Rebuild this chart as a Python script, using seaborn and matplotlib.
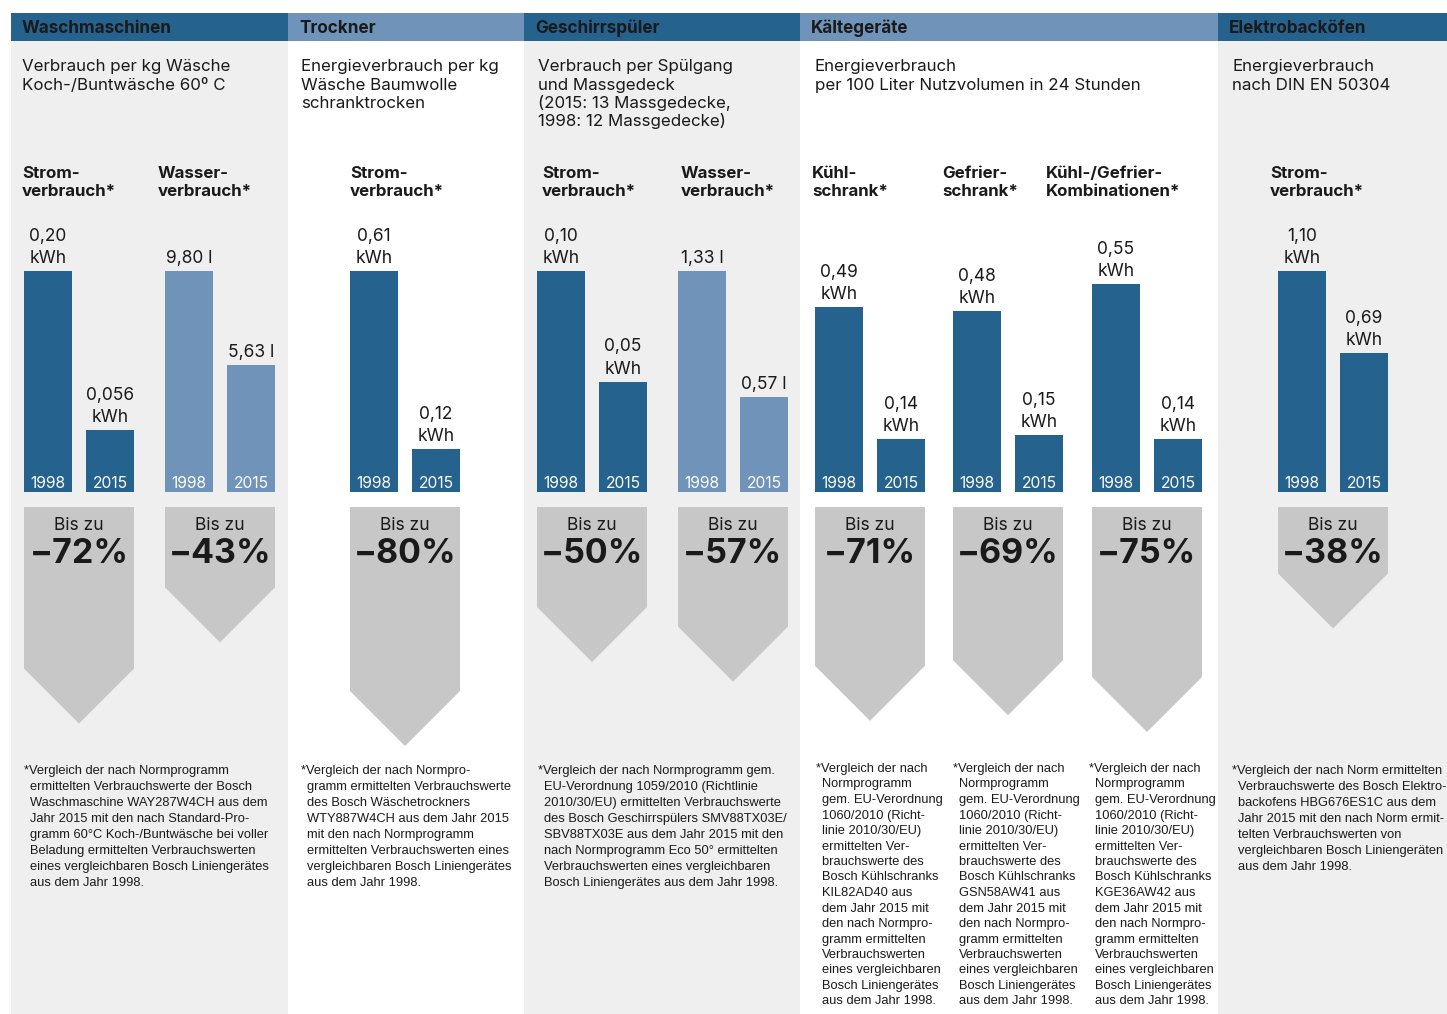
import matplotlib
matplotlib.use("Agg")
import matplotlib.pyplot as plt
from matplotlib.patches import Rectangle, Polygon
import seaborn as sns

# ---------------------------------------------------------------- data
SECTIONS = ["Waschmaschinen", "Trockner", "Geschirrspüler", "Kältegeräte", "Elektrobacköfen"]
SUBTITLES = [
    ["Verbrauch per kg Wäsche", "Koch-/Buntwäsche 60º C"],
    ["Energieverbrauch per kg", "Wäsche Baumwolle", "schranktrocken"],
    ["Verbrauch per Spülgang", "und Massgedeck", "(2015: 13 Massgedecke,", "1998: 12 Massgedecke)"],
    ["Energieverbrauch", "per 100 Liter Nutzvolumen in 24 Stunden"],
    ["Energieverbrauch", "nach DIN EN 50304"],
]
GROUP_LABELS = [
    ["Strom-", "verbrauch*"], ["Wasser-", "verbrauch*"], ["Strom-", "verbrauch*"],
    ["Strom-", "verbrauch*"], ["Wasser-", "verbrauch*"], ["Kühl-", "schrank*"],
    ["Gefrier-", "schrank*"], ["Kühl-/Gefrier-", "Kombinationen*"], ["Strom-", "verbrauch*"],
]
YEARS = ["1998", "2015"]
VALUES_1998 = [0.20, 9.80, 0.61, 0.10, 1.33, 0.49, 0.48, 0.55, 1.10]
VALUES_2015 = [0.056, 5.63, 0.12, 0.05, 0.57, 0.14, 0.15, 0.14, 0.69]
UNITS = ["kWh", "l", "kWh", "kWh", "l", "kWh", "kWh", "kWh", "kWh"]
REDUCTION = [72, 43, 80, 50, 57, 71, 69, 75, 38]

FOOTNOTES = [
    ["*Vergleich der nach Normprogramm", "ermittelten Verbrauchswerte der Bosch",
     "Waschmaschine WAY287W4CH aus dem", "Jahr 2015 mit den nach Standard-Pro-",
     "gramm 60°C Koch-/Buntwäsche bei voller", "Beladung ermittelten Verbrauchswerten",
     "eines vergleichbaren Bosch Liniengerätes", "aus dem Jahr 1998."],
    ["*Vergleich der nach Normpro-", "gramm ermittelten Verbrauchswerte",
     "des Bosch Wäschetrockners", "WTY887W4CH aus dem Jahr 2015",
     "mit den nach Normprogramm", "ermittelten Verbrauchswerten eines",
     "vergleichbaren Bosch Liniengerätes", "aus dem Jahr 1998."],
    ["*Vergleich der nach Normprogramm gem.", "EU-Verordnung 1059/2010 (Richtlinie",
     "2010/30/EU) ermittelten Verbrauchswerte", "des Bosch Geschirrspülers SMV88TX03E/",
     "SBV88TX03E aus dem Jahr 2015 mit den", "nach Normprogramm Eco 50° ermittelten",
     "Verbrauchswerten eines vergleichbaren", "Bosch Liniengerätes aus dem Jahr 1998."],
]
for model in ["KIL82AD40", "GSN58AW41", "KGE36AW42"]:
    FOOTNOTES.append([
        "*Vergleich der nach", "Normprogramm", "gem. EU-Verordnung", "1060/2010 (Richt-",
        "linie 2010/30/EU)", "ermittelten Ver-", "brauchswerte des", "Bosch Kühlschranks",
        f"{model} aus", "dem Jahr 2015 mit", "den nach Normpro-", "gramm ermittelten",
        "Verbrauchswerten", "eines vergleichbaren", "Bosch Liniengerätes", "aus dem Jahr 1998."])
FOOTNOTES.append([
    "*Vergleich der nach Norm ermittelten", "Verbrauchswerte des Bosch Elektro-",
    "backofens HBG676ES1C aus dem", "Jahr 2015 mit den nach Norm ermit-",
    "telten Verbrauchswerten von", "vergleichbaren Bosch Liniengeräten", "aus dem Jahr 1998."])

# ---------------------------------------------------------------- layout / style
W, H = 1447, 1014
SECTION_X = [11, 288, 524, 800, 1218, 1447]
SECTION_SHADED = [True, False, True, False, True]
DARK = "#25628E"
LIGHT = "#6F93B9"
GRAY_BG = "#EFEFEF"
ARROW_GRAY = "#C6C7C6"
INK = "#1A1A1A"
HEADER_COLORS = [DARK, LIGHT, DARK, LIGHT, DARK]
BAR_COLORS = [DARK, LIGHT, DARK, DARK, LIGHT, DARK, DARK, DARK, DARK]
SUBTITLE_X = [22, 301, 538, 815, 1232]
GROUP_X = [24, 165, 350, 537, 678, 815, 953, 1092, 1278]
LABEL_X = [22, 158, 350, 542, 681, 812, 942, 1046, 1270]
FOOTNOTE_X = [24, 301, 538, 816, 953, 1089, 1232]
SHARED_SCALE = [5, 6, 7]      # cooling appliances share one value axis
SHARED_YMAX = 0.585
GROUP_W = 110
BAR_W, BAR_STEP = 48, 62
BAR_TOP, BAR_BASE = 271, 492
ARROW_TOP = 507

sns.set_theme(style="white")
MAIN_FONT = ["Inter", "DejaVu Sans"]
NOTE_FONT = ["Liberation Sans", "DejaVu Sans"]
plt.rcParams["font.family"] = MAIN_FONT

fig = plt.figure(figsize=(W / 100, H / 100), dpi=100)
bg = fig.add_axes([0, 0, 1, 1])
bg.set_xlim(0, W)
bg.set_ylim(H, 0)
bg.set_axis_off()


def lines_at(x, y, lines, step, **kw):
    for k, line in enumerate(lines):
        bg.text(x, y + k * step, line, va="baseline", **kw)


# section panels and headers
for i, name in enumerate(SECTIONS):
    x0, x1 = SECTION_X[i], SECTION_X[i + 1]
    if SECTION_SHADED[i]:
        bg.add_patch(Rectangle((x0, 13), x1 - x0, H - 13, color=GRAY_BG, lw=0, zorder=0))
    bg.add_patch(Rectangle((x0, 13), x1 - x0, 28, color=HEADER_COLORS[i], lw=0, zorder=1))
    bg.text(x0 + 11, 33, name, fontsize=12.3, fontweight="bold", color=INK,
            va="baseline", zorder=2)
    lines_at(SUBTITLE_X[i], 71.5, SUBTITLES[i], 18.3, fontsize=12.2, color=INK)


def fmt(v):
    s = f"{v:.2f}" if abs(round(v, 2) - v) < 1e-9 else f"{v:.3f}"
    return s.replace(".", ",")


# bar pairs and reduction arrows
pad = (GROUP_W / BAR_STEP - 2) / 2
for g in range(len(VALUES_1998)):
    gx = GROUP_X[g]
    lines_at(LABEL_X[g], 177.5, GROUP_LABELS[g], 19, fontsize=12.2, fontweight="bold", color=INK)

    vals = [VALUES_1998[g], VALUES_2015[g]]
    ax = fig.add_axes([gx / W, (H - BAR_BASE) / H, GROUP_W / W, (BAR_BASE - BAR_TOP) / H])
    sns.barplot(x=YEARS, y=vals, color=BAR_COLORS[g], saturation=1, width=BAR_W / BAR_STEP,
                errorbar=None, ax=ax, linewidth=0)
    ax.set_xlim(-0.5 - pad, 1.5 + pad)
    ymax = SHARED_YMAX if g in SHARED_SCALE else VALUES_1998[g]
    ax.set_ylim(0, ymax)
    ax.set_axis_off()
    for k, v in enumerate(vals):
        ax.annotate(YEARS[k], (k, 0), xytext=(0, 4), textcoords="offset pixels",
                    ha="center", va="baseline", color="white", fontsize=11.3)
        if UNITS[g] == "kWh":
            ax.annotate("kWh", (k, v), xytext=(0, 8), textcoords="offset pixels",
                        ha="center", va="baseline", color=INK, fontsize=12.5)
            ax.annotate(fmt(v), (k, v), xytext=(0, 30), textcoords="offset pixels",
                        ha="center", va="baseline", color=INK, fontsize=12.5)
        else:
            ax.annotate(f"{fmt(v)} {UNITS[g]}", (k, v), xytext=(0, 8),
                        textcoords="offset pixels", ha="center", va="baseline",
                        color=INK, fontsize=12.5)

    # arrow whose length follows the reduction
    depth = 15 + 2.8 * REDUCTION[g]
    half = GROUP_W / 2
    l, r, c = gx, gx + GROUP_W, gx + half
    tip = ARROW_TOP + depth
    bg.add_patch(Polygon([(l, ARROW_TOP), (r, ARROW_TOP), (r, tip - half), (c, tip),
                          (l, tip - half)], closed=True, color=ARROW_GRAY, lw=0, zorder=1))
    bg.text(c, 530, "Bis zu", ha="center", va="baseline", fontsize=12.5, color=INK, zorder=2)
    bg.text(c, 563, f"−{REDUCTION[g]}%", ha="center", va="baseline", fontsize=24.5,
            fontweight="bold", color=INK, zorder=2)

# footnotes
for j, note in enumerate(FOOTNOTES):
    x = FOOTNOTE_X[j]
    step = 16 if len(note) <= 8 else 15.5
    y0 = 774 if len(note) <= 8 else 772
    bg.text(x, y0, note[0], va="baseline", fontsize=9.3, family=NOTE_FONT, color=INK)
    for k, line in enumerate(note[1:], start=1):
        bg.text(x + 6, y0 + step * k, line, va="baseline", fontsize=9.3,
                family=NOTE_FONT, color=INK)

fig.savefig("out.png", dpi=100)
